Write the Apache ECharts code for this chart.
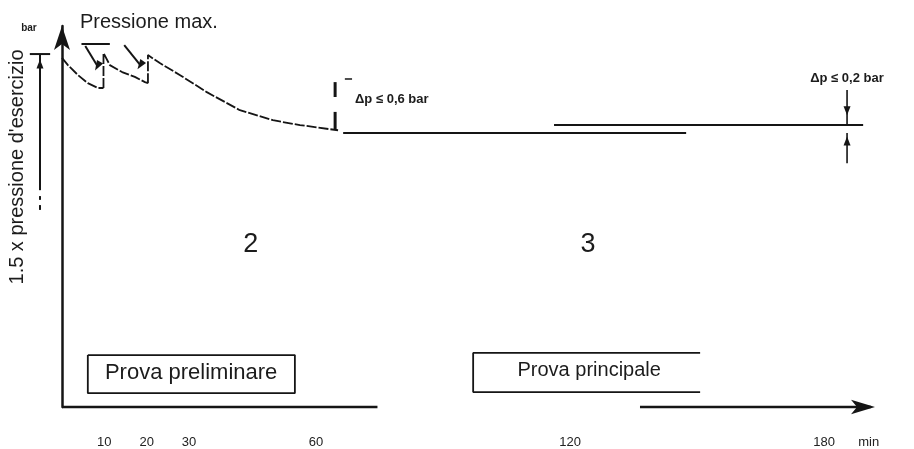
<!DOCTYPE html>
<html><head><meta charset="utf-8">
<script src="https://cdn.jsdelivr.net/npm/echarts@6/dist/echarts.min.js"></script>
<style>html,body{margin:0;padding:0;background:#fff}#c{width:914px;height:449px}</style>
</head><body><div id="c"></div>
<script>
// ---- tick labels (minutes) ----
const tickValues = [10, 20, 30, 60, 120, 180];
const tickLabels = ['10', '20', '30', '60', '120', '180'];
const unitLabel = 'min';
const unitValue = 190.5;

// ---- preliminary test: pressure decay with two re-pumps ----
const prelimTime1 = [0, 1.4, 3.8, 6.1, 8.5, 9.8];
const prelimPres1 = [10.08, 9.87, 9.58, 9.35, 9.21, 9.21];
const prelimTime2 = [9.8, 9.8, 11.3, 14.2, 17.2, 19.6, 20.3];
const prelimPres2 = [9.21, 10.22, 9.87, 9.67, 9.53, 9.38, 9.35];
const prelimTime3 = [20.3, 20.3, 23.1, 27.9, 34.2, 42.0, 49.8, 56.2, 63.3, 65.2];
const prelimPres3 = [9.35, 10.16, 9.93, 9.58, 9.09, 8.57, 8.28, 8.14, 8.02, 7.99];

// ---- main test: constant pressure ----
const mainTime1 = [66.4, 147.4];
const mainPres1 = [7.91, 7.91];
const mainTime2 = [116.2, 189.2];
const mainPres2 = [8.14, 8.14];

// ---- re-pump indicator (max pressure) ----
const refillTime = [4.6, 11.3];
const refillPres = [10.48, 10.48];
const pumpArrow1Time = [5.5, 8.4];
const pumpArrow1Pres = [10.42, 9.84];
const pumpArrow2Time = [14.7, 18.5];
const pumpArrow2Pres = [10.45, 9.87];

// ---- dimension markers ----
const dimLeftBarTime = [-7.6, -2.8];
const dimLeftBarPres = [10.19, 10.19];
const dimLeftTime = [-5.2, -5.2];
const dimLeftPres = [10.19, 6.26];
const dimLeftDash1Pres = [6.09, 5.98];
const dimLeftDash2Pres = [5.83, 5.69];
const dim06Time = [64.5, 64.5];
const dim06TopPres = [9.38, 8.95];
const dim06BotPres = [8.52, 8.0];
const dim06TickTime = [66.8, 68.5];
const dim06TickPres = [9.47, 9.47];
const dim02Time = [185.4, 185.4];
const dim02TopPres = [9.15, 8.14];
const dim02BotPres = [7.91, 7.04];

// ---- x axis visible segments ----
const xAxisSegTime1 = [0, 74.5];
const xAxisSegTime2 = [136.5, 191];
const xAxisSegPres = [0, 0];

// ---- test phase boxes ----
const prelimBoxTime = [6.1, 55.0, 55.0, 6.1, 6.1];
const prelimBoxPres = [1.50, 1.50, 0.40, 0.40, 1.50];
const mainBoxTime = [150.7, 97.1, 97.1, 150.7];
const mainBoxPres = [1.56, 1.56, 0.43, 0.43];

// ---- text annotations (anchored in data units) ----
const annoTexts = ['bar', 'Pressione max.', "1.5 x pressione d'esercizio", 'Δp ≤ 0,6 bar', 'Δp ≤ 0,2 bar', '2', '3', 'Prova preliminare', 'Prova principale'];
const annoTime = [-7.8, 4.25, -10.6, 69.2, 176.7, 44.6, 124.2, 30.5, 124.5];
const annoPres = [10.94, 11.09, 6.93, 8.89, 9.50, 4.68, 4.68, 0.98, 1.04];

const FONT = "'Liberation Sans', Arial, sans-serif";
const INK = '#151515';
const TXT = '#1c1c1c';
const annoStyle = [
  {fontSize: 10, fontWeight: 'bold', align: 'center'},
  {fontSize: 20, align: 'left'},
  {fontSize: 20, align: 'center', rotate: 90},
  {fontSize: 13, align: 'left', fontWeight: 'bold'},
  {fontSize: 13, align: 'left', fontWeight: 'bold'},
  {fontSize: 27, align: 'center'},
  {fontSize: 27, align: 'center'},
  {fontSize: 22, align: 'center'},
  {fontSize: 20, align: 'center'}
];

function zip(t, p) { return t.map((x, i) => [x, p[i]]); }
function seg(t, p, w, extra) {
  return Object.assign({
    type: 'line', data: zip(t, p), symbol: 'none', clip: false, silent: true,
    animation: false, lineStyle: {color: INK, width: w}
  }, extra || {});
}
const curveStyle = {lineStyle: {color: INK, width: 1.8, type: [10, 2]}};

const series = [
  seg(prelimTime1, prelimPres1, 1.8, curveStyle),
  seg(prelimTime2, prelimPres2, 1.8, curveStyle),
  seg(prelimTime3, prelimPres3, 1.8, curveStyle),
  seg(mainTime1, mainPres1, 2),
  seg(mainTime2, mainPres2, 2),
  seg(refillTime, refillPres, 2),
  seg(pumpArrow1Time, pumpArrow1Pres, 2),
  seg(pumpArrow2Time, pumpArrow2Pres, 2),
  seg(dimLeftBarTime, dimLeftBarPres, 2),
  seg(dimLeftTime, dimLeftPres, 2),
  seg(dimLeftTime, dimLeftDash1Pres, 2),
  seg(dimLeftTime, dimLeftDash2Pres, 2),
  seg(dim06Time, dim06TopPres, 3),
  seg(dim06Time, dim06BotPres, 3),
  seg(dim06TickTime, dim06TickPres, 1.5),
  seg(dim02Time, dim02TopPres, 1.6),
  seg(dim02Time, dim02BotPres, 1.6),
  seg(xAxisSegTime1, xAxisSegPres, 2.5),
  seg(xAxisSegTime2, xAxisSegPres, 2.5),
  seg(prelimBoxTime, prelimBoxPres, 1.8),
  seg(mainBoxTime, mainBoxPres, 1.8),
  {
    type: 'scatter', clip: false, silent: true, animation: false,
    itemStyle: {color: INK, opacity: 1},
    data: [
      {value: [pumpArrow1Time[1], pumpArrow1Pres[1]], symbol: 'triangle', symbolSize: [7, 10], symbolRotate: 150},
      {value: [pumpArrow2Time[1], pumpArrow2Pres[1]], symbol: 'triangle', symbolSize: [7, 10], symbolRotate: 145},
      {value: [dimLeftTime[0], 9.90], symbol: 'triangle', symbolSize: [7, 9]},
      {value: [dim02Time[0], 8.55], symbol: 'triangle', symbolSize: [7, 9], symbolRotate: 180},
      {value: [dim02Time[0], 7.68], symbol: 'triangle', symbolSize: [7, 9]},
      {value: [192, 0], symbol: 'arrow', symbolSize: [11, 24], symbolRotate: -90}
    ]
  },
  {
    type: 'scatter', clip: false, silent: true, animation: false, symbolSize: 0,
    itemStyle: {opacity: 1},
    data: annoTexts.map((txt, i) => ({
      value: [annoTime[i], annoPres[i]],
      label: Object.assign({
        show: true, position: 'inside', formatter: txt, color: TXT,
        fontFamily: FONT, verticalAlign: 'middle'
      }, annoStyle[i])
    }))
  }
];

const chart = echarts.init(document.getElementById('c'), null, {renderer: 'canvas'});
chart.setOption({
  animation: false,
  backgroundColor: '#ffffff',
  grid: {left: 0, right: 39, top: 26, bottom: 42},
  xAxis: {
    type: 'value', min: -14.64, max: 192,
    axisLine: {show: false}, axisTick: {show: false}, splitLine: {show: false},
    axisLabel: {
      customValues: tickValues.concat([unitValue]),
      formatter: v => (v === unitValue ? unitLabel : tickLabels[tickValues.indexOf(v)]),
      margin: 29, color: '#222', fontSize: 13, fontFamily: FONT
    }
  },
  yAxis: {
    type: 'value', min: 0, max: 11,
    axisLine: {show: true, onZero: true, symbol: ['none', 'arrow'], symbolSize: [12, 24], lineStyle: {color: INK, width: 2.5}},
    axisTick: {show: false}, axisLabel: {show: false}, splitLine: {show: false}
  },
  series: series
});
</script>
</body></html>
